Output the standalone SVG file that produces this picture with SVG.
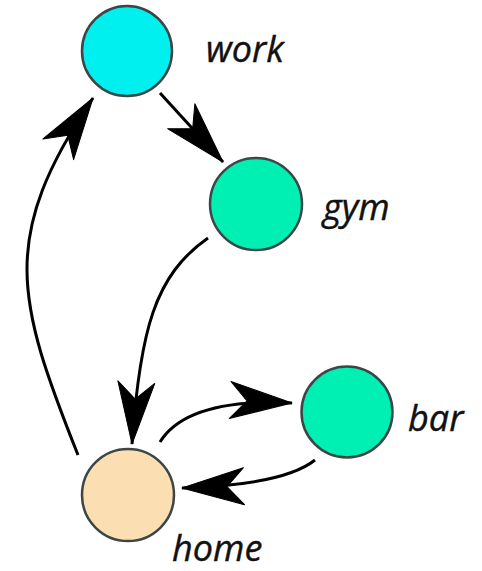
<svg xmlns="http://www.w3.org/2000/svg" width="482" height="571" viewBox="0 0 482 571">
  <style>
    .node { stroke: #3c4646; stroke-width: 2.5; }
    .label { font-family: "Open Sans", "Liberation Sans", sans-serif; font-style: italic; font-size: 36px; fill: #111; stroke: #111; stroke-width: 0.4; }
    .edge { fill: none; stroke: #000; stroke-width: 3; marker-end: url(#arrow); }
  </style>
  <defs>
    <marker id="arrow" markerUnits="userSpaceOnUse" orient="auto" refX="0" refY="0" markerWidth="80" markerHeight="50" viewBox="-70 -25 80 50" overflow="visible">
      <path d="M0,0 L-62,-18.5 L-45,0 L-62,18.5 Z" fill="#000" stroke="#000" stroke-width="1" stroke-linejoin="round"/>
    </marker>
  </defs>
  <rect width="482" height="571" fill="#fff"/>
  <g id="connectors">
    <path class="edge" d="M160,93 L223,162"/>
    <path class="edge" d="M78,455 C16,299 -1,237 93,98"/>
    <path class="edge" d="M208,238 C155,275 140,330 132,444"/>
    <path class="edge" d="M160,442 C180,410 230,400 292,403"/>
    <path class="edge" d="M315,460 C295,476 250,486 182,488"/>
  </g>
  <g id="work">
    <circle class="node" cx="127" cy="51" r="45" fill="#00f0f0"/>
    <text class="label" x="206" y="62">work</text>
  </g>
  <g id="gym">
    <circle class="node" cx="256" cy="204" r="46" fill="#00f0b4"/>
    <text class="label" x="323" y="220">gym</text>
  </g>
  <g id="bar">
    <circle class="node" cx="347" cy="412" r="45.5" fill="#00f0b4"/>
    <text class="label" x="408" y="431">bar</text>
  </g>
  <g id="home">
    <circle class="node" cx="128" cy="495" r="46" fill="#fbdfb2"/>
    <text class="label" x="172" y="561">home</text>
  </g>
</svg>
